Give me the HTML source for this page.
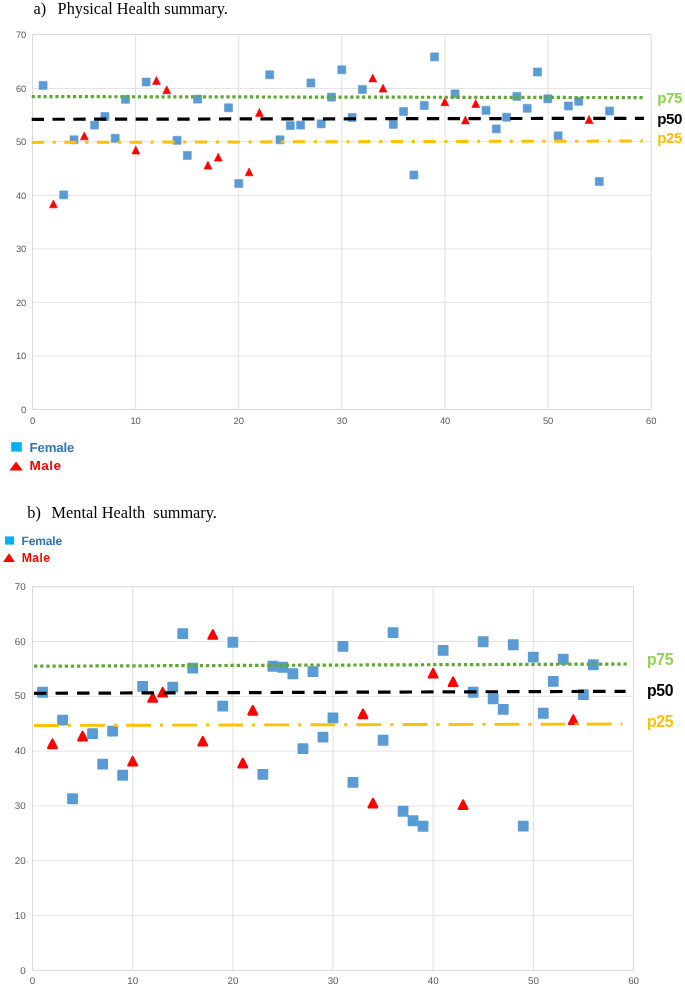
<!DOCTYPE html>
<html lang="en">
<head>
<meta charset="utf-8">
<title>Physical and Mental Health summary</title>
<style>
html,body{margin:0;padding:0;background:#fff;}
body{width:685px;height:987px;overflow:hidden;position:relative;}
svg{position:absolute;left:0;top:0;display:block;}
svg text{font-family:"Liberation Sans",sans-serif;}
svg text.t{font-family:"Liberation Serif",serif;font-size:16.3px;fill:#000;}
</style>
</head>
<body>
<svg width="685" height="987" viewBox="0 0 685 987">
<rect width="685" height="987" fill="#fff"/>
<text class="t" x="33.5" y="13.8">a)</text>
<text class="t" x="57.6" y="13.8">Physical Health summary.</text>
<path d="M32.50 88.50H651.20M32.50 141.60H651.20M32.50 195.30H651.20M32.50 248.90H651.20M32.50 302.40H651.20M32.50 355.90H651.20" stroke="#e4e4e4" stroke-width="1" fill="none"/>
<path d="M135.62 34.50V409.50M238.73 34.50V409.50M341.85 34.50V409.50M444.97 34.50V409.50M548.08 34.50V409.50" stroke="#e0e0e0" stroke-width="1" fill="none"/>
<path d="M32.50 34.50H651.20M32.50 409.50H651.20M32.50 34.50V409.50M651.20 34.50V409.50" stroke="#d9d9d9" stroke-width="1" fill="none"/>
<g text-rendering="geometricPrecision" font-size="9.4" letter-spacing="-0.1" fill="#5a5a5a">
<text x="26.2" y="37.9" text-anchor="end">70</text>
<text x="26.2" y="91.8" text-anchor="end">60</text>
<text x="26.2" y="144.9" text-anchor="end">50</text>
<text x="26.2" y="198.7" text-anchor="end">40</text>
<text x="26.2" y="252.2" text-anchor="end">30</text>
<text x="26.2" y="305.8" text-anchor="end">20</text>
<text x="26.2" y="359.2" text-anchor="end">10</text>
<text x="26.2" y="412.9" text-anchor="end">0</text>
<text x="32.5" y="424.2" text-anchor="middle">0</text>
<text x="135.6" y="424.2" text-anchor="middle">10</text>
<text x="238.7" y="424.2" text-anchor="middle">20</text>
<text x="341.9" y="424.2" text-anchor="middle">30</text>
<text x="445.0" y="424.2" text-anchor="middle">40</text>
<text x="548.1" y="424.2" text-anchor="middle">50</text>
<text x="651.2" y="424.2" text-anchor="middle">60</text>
</g>
<g fill="#5b9bd5" stroke="#5b9bd5" stroke-width="0.6" stroke-linejoin="round"><rect x="39.1" y="81.4" width="8.0" height="8.0"/><rect x="59.7" y="190.9" width="8.0" height="8.0"/><rect x="70.0" y="135.8" width="8.0" height="8.0"/><rect x="90.6" y="121.1" width="8.0" height="8.0"/><rect x="100.9" y="112.5" width="8.0" height="8.0"/><rect x="111.2" y="134.3" width="8.0" height="8.0"/><rect x="121.5" y="95.3" width="8.0" height="8.0"/><rect x="142.1" y="78.0" width="8.0" height="8.0"/><rect x="173.0" y="136.3" width="8.0" height="8.0"/><rect x="183.3" y="151.4" width="8.0" height="8.0"/><rect x="193.6" y="95.1" width="8.0" height="8.0"/><rect x="224.5" y="103.8" width="8.0" height="8.0"/><rect x="234.8" y="179.5" width="8.0" height="8.0"/><rect x="265.7" y="70.8" width="8.0" height="8.0"/><rect x="276.0" y="135.8" width="8.0" height="8.0"/><rect x="286.3" y="121.6" width="8.0" height="8.0"/><rect x="296.6" y="121.1" width="8.0" height="8.0"/><rect x="306.9" y="79.0" width="8.0" height="8.0"/><rect x="317.2" y="119.9" width="8.0" height="8.0"/><rect x="327.5" y="93.1" width="8.0" height="8.0"/><rect x="337.8" y="65.8" width="8.0" height="8.0"/><rect x="348.1" y="113.5" width="8.0" height="8.0"/><rect x="358.4" y="85.4" width="8.0" height="8.0"/><rect x="389.3" y="120.4" width="8.0" height="8.0"/><rect x="399.6" y="107.5" width="8.0" height="8.0"/><rect x="409.9" y="171.0" width="8.0" height="8.0"/><rect x="420.2" y="101.5" width="8.0" height="8.0"/><rect x="430.5" y="52.9" width="8.0" height="8.0"/><rect x="451.1" y="89.9" width="8.0" height="8.0"/><rect x="482.0" y="106.3" width="8.0" height="8.0"/><rect x="492.3" y="124.9" width="8.0" height="8.0"/><rect x="502.6" y="113.2" width="8.0" height="8.0"/><rect x="512.9" y="92.4" width="8.0" height="8.0"/><rect x="523.2" y="104.3" width="8.0" height="8.0"/><rect x="533.5" y="68.0" width="8.0" height="8.0"/><rect x="543.8" y="94.8" width="8.0" height="8.0"/><rect x="554.1" y="131.8" width="8.0" height="8.0"/><rect x="564.4" y="102.0" width="8.0" height="8.0"/><rect x="574.7" y="97.3" width="8.0" height="8.0"/><rect x="595.3" y="177.5" width="8.0" height="8.0"/><rect x="605.6" y="107.0" width="8.0" height="8.0"/></g>
<g fill="#ff0000" stroke="#ff0000" stroke-width="0.6" stroke-linejoin="round"><path d="M53.4 199.9l4.0 7.9h-7.9z"/><path d="M84.3 131.9l4.0 7.9h-7.9z"/><path d="M135.8 146.1l4.0 7.9h-7.9z"/><path d="M156.4 76.5l4.0 7.9h-7.9z"/><path d="M166.7 85.8l4.0 7.9h-7.9z"/><path d="M207.9 161.2l4.0 7.9h-7.9z"/><path d="M218.2 153.2l4.0 7.9h-7.9z"/><path d="M249.1 167.9l4.0 7.9h-7.9z"/><path d="M259.4 108.5l4.0 7.9h-7.9z"/><path d="M372.7 74.0l4.0 7.9h-7.9z"/><path d="M383.0 84.2l4.0 7.9h-7.9z"/><path d="M444.8 97.8l4.0 7.9h-7.9z"/><path d="M465.4 116.0l4.0 7.9h-7.9z"/><path d="M475.7 99.6l4.0 7.9h-7.9z"/><path d="M589.0 115.5l4.0 7.9h-7.9z"/></g>
<line x1="31.7" y1="96.6" x2="645" y2="97.6" stroke="#60a834" stroke-width="3.2" stroke-dasharray="3.2 2.7"/>
<line x1="31.7" y1="119.3" x2="644" y2="118.3" stroke="#000" stroke-width="3.2" stroke-dasharray="12.3 8.5"/>
<line x1="31.7" y1="142.4" x2="643" y2="141.0" stroke="#ffc000" stroke-width="3" stroke-dasharray="12.3 8.7 3.05 8.6"/>
<text x="657.3" y="103.2" fill="#92d050" font-size="15.2" letter-spacing="-0.45" font-weight="bold">p75</text>
<text x="657.3" y="123.6" fill="#000" font-size="15.2" letter-spacing="-0.45" font-weight="bold">p50</text>
<text x="657.3" y="143.2" fill="#ffc000" font-size="15.2" letter-spacing="-0.45" font-weight="bold">p25</text>
<rect x="11.2" y="442.2" width="10.6" height="9.4" fill="#00b0f0"/>
<text x="29.6" y="452.2" font-size="13.2" letter-spacing="-0.12" text-rendering="geometricPrecision" font-weight="bold" fill="#2e75b6">Female</text>
<path d="M16.1 461.4l6.7 9.2h-13.4z" fill="#ff0000"/>
<text x="29.6" y="469.9" font-size="13.6" letter-spacing="0.4" font-weight="bold" fill="#ff0000">Male</text>
<text class="t" x="27.3" y="517.8">b)</text>
<text class="t" x="51.6" y="517.8">Mental Health&#160; summary.</text>
<rect x="5.0" y="536.4" width="9.1" height="8.2" fill="#00b0f0"/>
<text x="21.6" y="545.0" font-size="12.0" letter-spacing="-0.15" text-rendering="geometricPrecision" font-weight="bold" fill="#2e75b6">Female</text>
<path d="M9 553.3l5.9 8.7h-11.8z" fill="#ff0000"/>
<text x="21.7" y="562" font-size="12.2" letter-spacing="0.45" font-weight="bold" fill="#ff0000">Male</text>
<path d="M32.50 641.51H633.50M32.50 696.33H633.50M32.50 751.14H633.50M32.50 805.96H633.50M32.50 860.77H633.50M32.50 915.59H633.50" stroke="#e4e4e4" stroke-width="1" fill="none"/>
<path d="M132.67 586.70V970.40M232.83 586.70V970.40M333.00 586.70V970.40M433.17 586.70V970.40M533.33 586.70V970.40" stroke="#e0e0e0" stroke-width="1" fill="none"/>
<path d="M32.50 586.70H633.50M32.50 970.40H633.50M32.50 586.70V970.40M633.50 586.70V970.40" stroke="#d9d9d9" stroke-width="1" fill="none"/>
<g text-rendering="geometricPrecision" font-size="9.8" letter-spacing="0" fill="#5a5a5a">
<text x="25.6" y="589.8" text-anchor="end">70</text>
<text x="25.6" y="644.6" text-anchor="end">60</text>
<text x="25.6" y="699.4" text-anchor="end">50</text>
<text x="25.6" y="754.2" text-anchor="end">40</text>
<text x="25.6" y="809.1" text-anchor="end">30</text>
<text x="25.6" y="863.9" text-anchor="end">20</text>
<text x="25.6" y="918.7" text-anchor="end">10</text>
<text x="25.6" y="973.5" text-anchor="end">0</text>
<text x="32.6" y="984.0" text-anchor="middle">0</text>
<text x="132.8" y="984.0" text-anchor="middle">10</text>
<text x="233.0" y="984.0" text-anchor="middle">20</text>
<text x="333.1" y="984.0" text-anchor="middle">30</text>
<text x="433.3" y="984.0" text-anchor="middle">40</text>
<text x="533.5" y="984.0" text-anchor="middle">50</text>
<text x="633.6" y="984.0" text-anchor="middle">60</text>
</g>
<g fill="#5b9bd5" stroke="#5b9bd5" stroke-width="1.5" stroke-linejoin="round"><rect x="37.9" y="687.6" width="9.3" height="9.3"/><rect x="57.9" y="715.5" width="9.3" height="9.3"/><rect x="67.9" y="794.1" width="9.3" height="9.3"/><rect x="87.9" y="728.9" width="9.3" height="9.3"/><rect x="98.0" y="759.4" width="9.3" height="9.3"/><rect x="108.0" y="726.4" width="9.3" height="9.3"/><rect x="118.0" y="770.6" width="9.3" height="9.3"/><rect x="138.0" y="681.8" width="9.3" height="9.3"/><rect x="168.1" y="682.5" width="9.3" height="9.3"/><rect x="178.1" y="628.9" width="9.3" height="9.3"/><rect x="188.1" y="663.4" width="9.3" height="9.3"/><rect x="218.1" y="701.4" width="9.3" height="9.3"/><rect x="228.2" y="637.6" width="9.3" height="9.3"/><rect x="258.2" y="769.8" width="9.3" height="9.3"/><rect x="268.2" y="661.6" width="9.3" height="9.3"/><rect x="278.2" y="662.6" width="9.3" height="9.3"/><rect x="288.2" y="669.1" width="9.3" height="9.3"/><rect x="298.3" y="744.0" width="9.3" height="9.3"/><rect x="308.3" y="666.9" width="9.3" height="9.3"/><rect x="318.3" y="732.4" width="9.3" height="9.3"/><rect x="328.3" y="713.2" width="9.3" height="9.3"/><rect x="338.3" y="641.8" width="9.3" height="9.3"/><rect x="348.3" y="777.8" width="9.3" height="9.3"/><rect x="378.4" y="735.6" width="9.3" height="9.3"/><rect x="388.4" y="627.9" width="9.3" height="9.3"/><rect x="398.4" y="806.6" width="9.3" height="9.3"/><rect x="408.4" y="816.1" width="9.3" height="9.3"/><rect x="418.4" y="821.6" width="9.3" height="9.3"/><rect x="438.5" y="645.8" width="9.3" height="9.3"/><rect x="468.5" y="687.6" width="9.3" height="9.3"/><rect x="478.5" y="637.1" width="9.3" height="9.3"/><rect x="488.5" y="694.1" width="9.3" height="9.3"/><rect x="498.6" y="704.8" width="9.3" height="9.3"/><rect x="508.6" y="640.1" width="9.3" height="9.3"/><rect x="518.6" y="821.4" width="9.3" height="9.3"/><rect x="528.6" y="652.5" width="9.3" height="9.3"/><rect x="538.6" y="708.6" width="9.3" height="9.3"/><rect x="548.6" y="676.8" width="9.3" height="9.3"/><rect x="558.6" y="654.6" width="9.3" height="9.3"/><rect x="578.7" y="689.9" width="9.3" height="9.3"/><rect x="588.7" y="660.1" width="9.3" height="9.3"/></g>
<g fill="#ff0000" stroke="#ff0000" stroke-width="2.2" stroke-linejoin="round"><path d="M52.5 739.6l4.3 8.5h-8.7z"/><path d="M82.6 731.8l4.3 8.5h-8.7z"/><path d="M132.7 757.0l4.3 8.5h-8.7z"/><path d="M152.7 693.2l4.3 8.5h-8.7z"/><path d="M162.7 687.9l4.3 8.5h-8.7z"/><path d="M202.8 737.0l4.3 8.5h-8.7z"/><path d="M212.8 630.2l4.3 8.5h-8.7z"/><path d="M242.8 758.8l4.3 8.5h-8.7z"/><path d="M252.8 706.1l4.3 8.5h-8.7z"/><path d="M363.0 709.6l4.3 8.5h-8.7z"/><path d="M373.0 798.8l4.3 8.5h-8.7z"/><path d="M433.1 669.0l4.3 8.5h-8.7z"/><path d="M453.1 677.4l4.3 8.5h-8.7z"/><path d="M463.1 800.5l4.3 8.5h-8.7z"/><path d="M573.3 715.4l4.3 8.5h-8.7z"/></g>
<line x1="34.06" y1="666.2" x2="628.8" y2="664.0" stroke="#60a834" stroke-width="3.2" stroke-dasharray="3.3 2.84"/>
<line x1="34.06" y1="693.3" x2="625.6" y2="691.3" stroke="#000" stroke-width="3.2" stroke-dasharray="12.5 9.0"/>
<line x1="34.06" y1="725.5" x2="622.4" y2="724.0" stroke="#ffc000" stroke-width="2.9" stroke-dasharray="24.8 9.0 3.2 9.06"/>
<text x="647.0" y="665.1" fill="#92d050" font-size="15.8" letter-spacing="-0.3" font-weight="bold">p75</text>
<text x="647.0" y="696.1" fill="#000" font-size="15.8" letter-spacing="-0.3" font-weight="bold">p50</text>
<text x="647.0" y="726.5" fill="#ffc000" font-size="15.8" letter-spacing="-0.3" font-weight="bold">p25</text>
</svg>
</body>
</html>
